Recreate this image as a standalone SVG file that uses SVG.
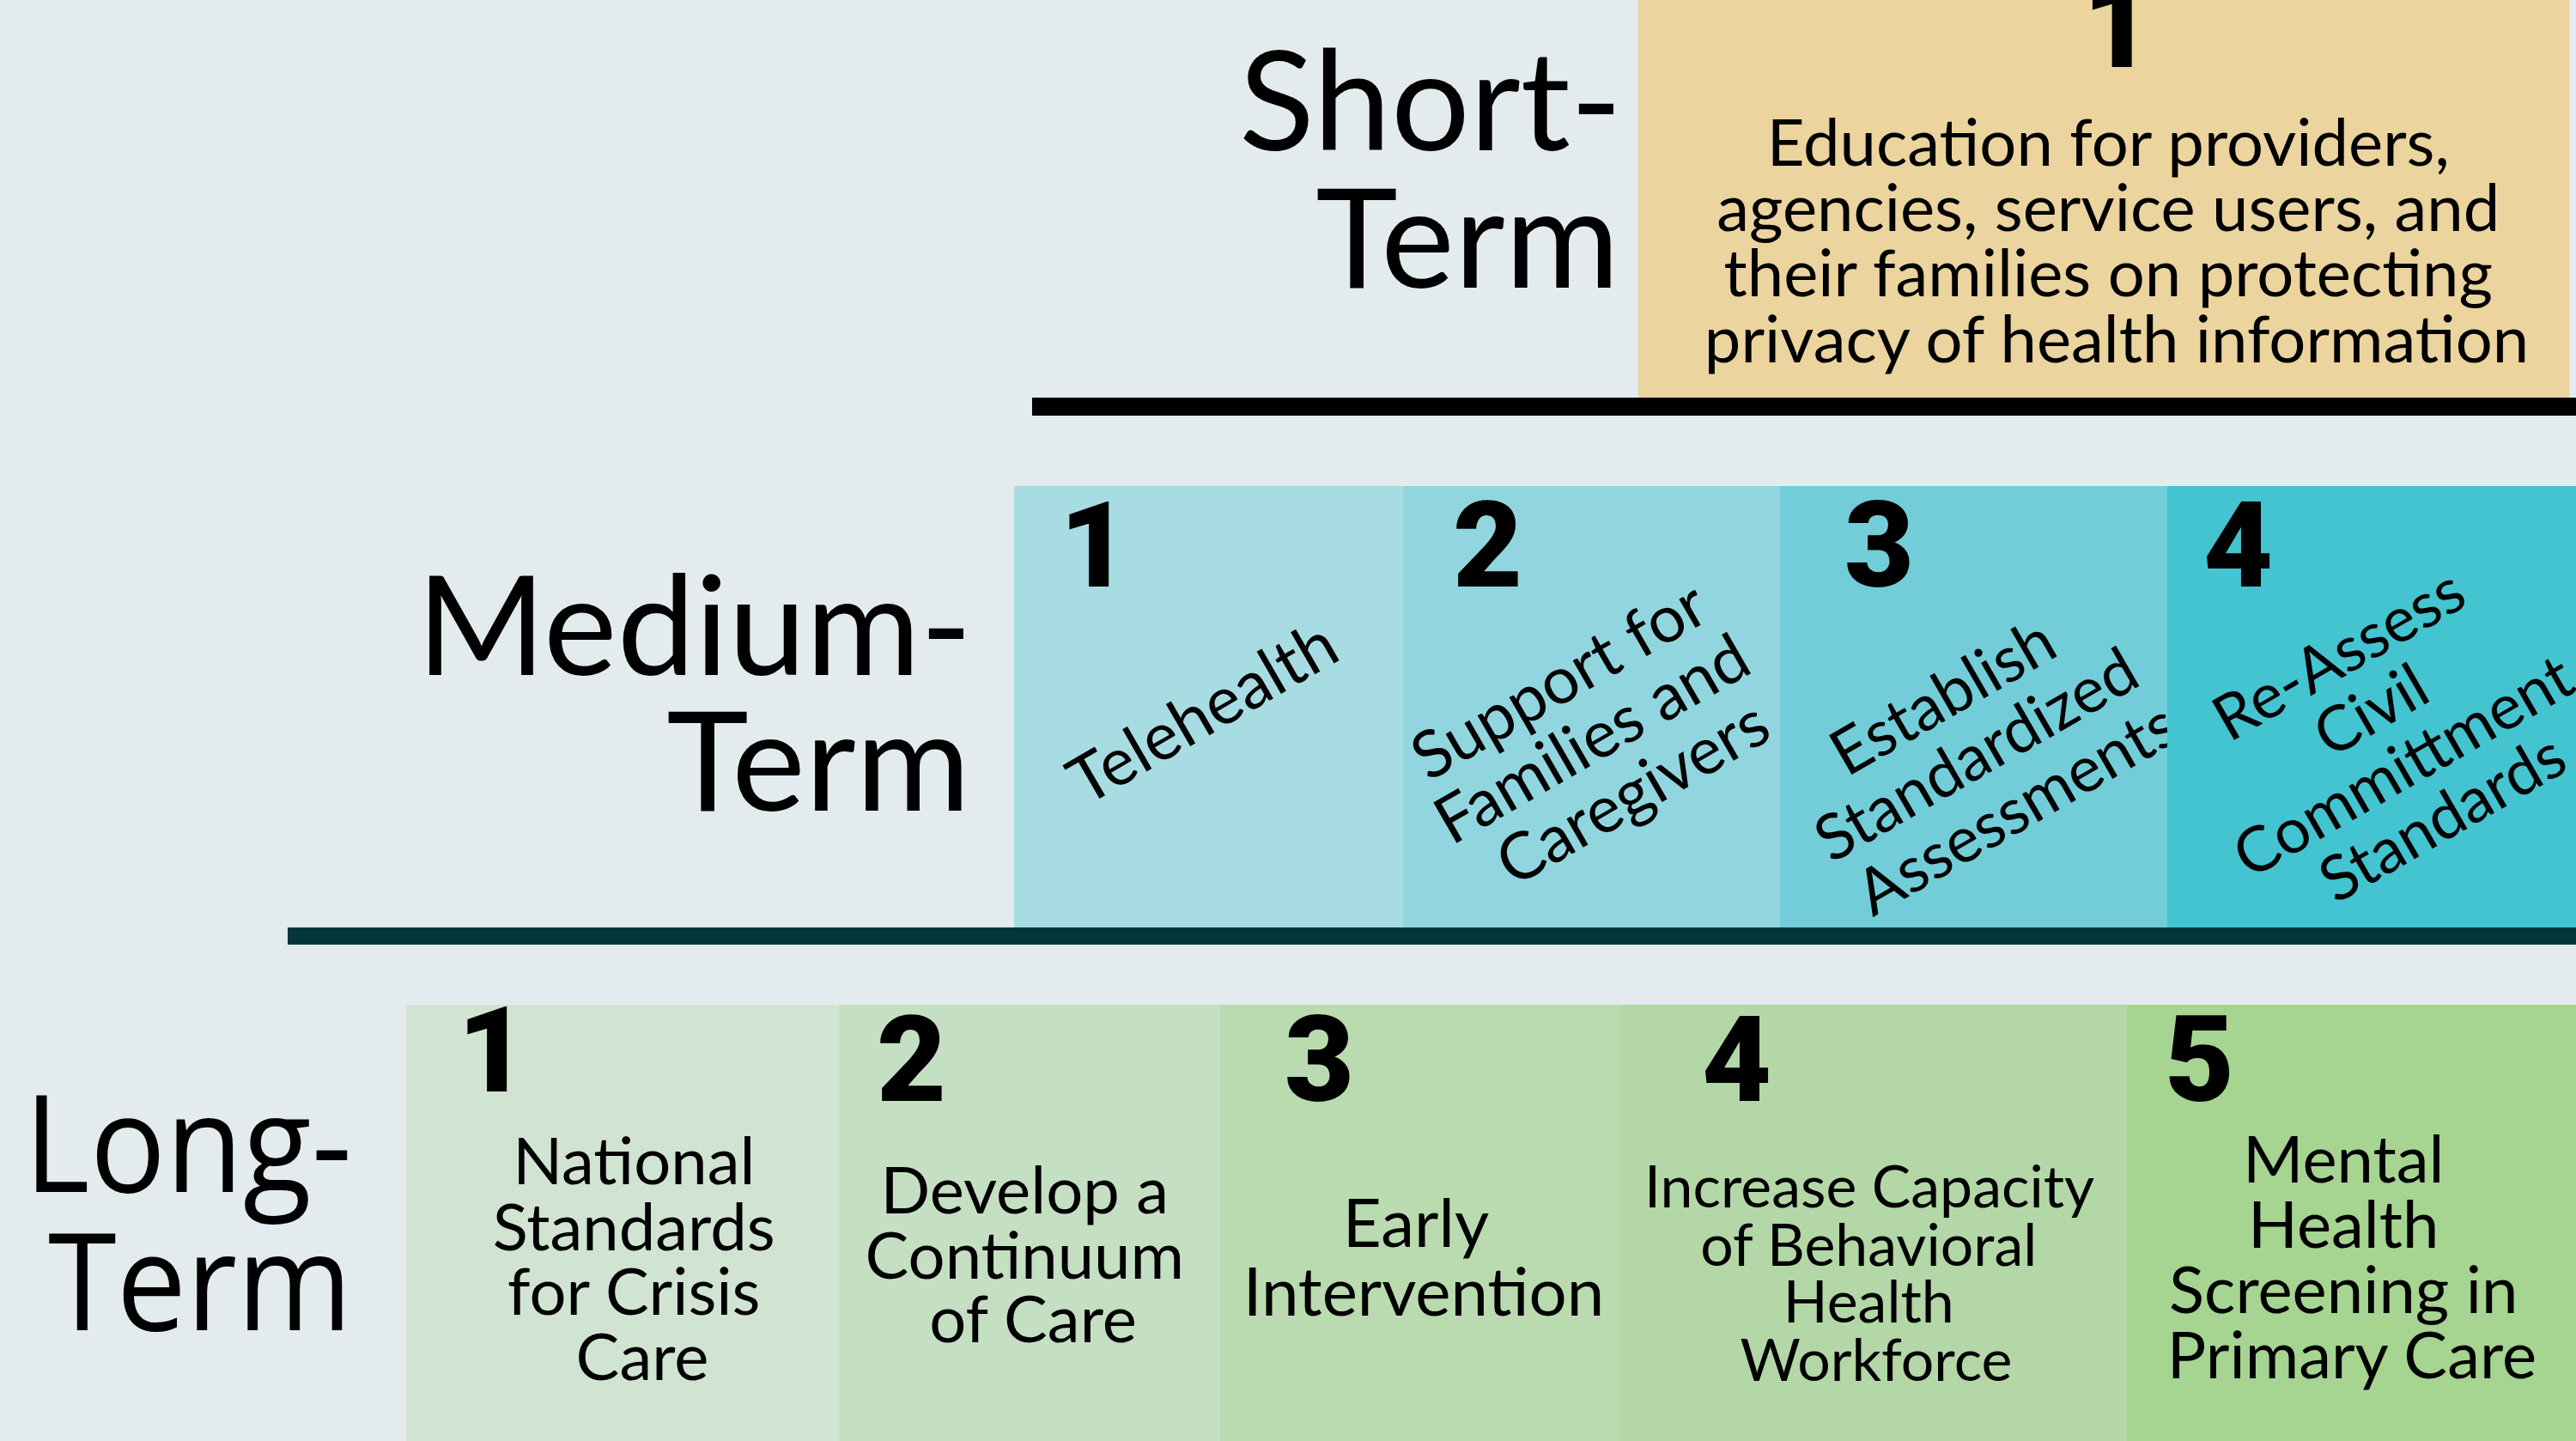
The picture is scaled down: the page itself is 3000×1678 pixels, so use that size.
<svg xmlns="http://www.w3.org/2000/svg" width="3000" height="1678" viewBox="0 0 3000 1678">
  <style>
    .label { font-family: Lato, "Open Sans", "Liberation Sans", sans-serif; font-size: 162px; text-anchor: end; fill: #000; }
    .label-long { font-family: "Open Sans", "Noto Sans", "Liberation Sans", sans-serif; font-size: 158px; text-anchor: end; fill: #000; }
    .num { font-family: Roboto, "DejaVu Sans", sans-serif; font-weight: 900; font-size: 140px; fill: #000; }
    .body { font-family: Lato, "Liberation Sans", sans-serif; text-anchor: middle; fill: #000; }
  </style>

  <!-- page background -->
  <rect x="0" y="0" width="3000" height="1678" fill="#e3ebee"/>

  <!-- tier labels -->
  <g id="label-short">
    <text class="label" x="1889" y="175">Short-</text>
    <text class="label" x="1886" y="335">Term</text>
  </g>
  <g id="label-medium">
    <text class="label" x="1132" y="786" font-size="158">Medium-</text>
    <text class="label" x="1130" y="944">Term</text>
  </g>
  <g id="label-long">
    <text class="label-long" x="410" y="1388" textLength="382" lengthAdjust="spacingAndGlyphs">Long-</text>
    <text class="label-long" x="410" y="1549" textLength="354" lengthAdjust="spacingAndGlyphs">Term</text>
  </g>

  <!-- short-term item -->
  <g id="short-1">
    <rect x="1908" y="0" width="1084" height="463" fill="#ebd49e"/>
    <text class="num" x="2466" y="78" text-anchor="middle">1</text>
    <text class="body" font-size="76">
      <tspan x="2465" y="193">Education for providers,</tspan>
      <tspan x="2465" y="269">agencies, service users, and</tspan>
      <tspan x="2465" y="345">their families on protecting</tspan>
      <tspan x="2465" y="422">privacy of health information</tspan>
    </text>
  </g>

  <!-- medium-term items -->
  <g id="medium-1">
    <rect x="1181" y="566" width="453" height="514" fill="#a7dce2"/>
    <text class="num" x="1234" y="683">1</text>
    <g transform="translate(1414,853) rotate(-30)">
      <text class="body" font-size="77" x="0" y="0">Telehealth</text>
    </g>
  </g>
  <g id="medium-2">
    <rect x="1634" y="566" width="439" height="514" fill="#91d6df"/>
    <text class="num" x="1692" y="683">2</text>
    <g transform="translate(1866,862) rotate(-30)">
      <text class="body" font-size="76">
        <tspan x="0" y="-59">Support for</tspan>
        <tspan x="0" y="19">Families and</tspan>
        <tspan x="0" y="97">Caregivers</tspan>
      </text>
    </g>
  </g>
  <g id="medium-3">
    <rect x="2073" y="566" width="451" height="514" fill="#72cdd8"/>
    <text class="num" x="2148" y="683">3</text>
    <g transform="translate(2313,880) rotate(-30)">
      <text class="body" font-size="74">
        <tspan x="0" y="-59">Establish</tspan>
        <tspan x="0" y="19">Standardized</tspan>
        <tspan x="0" y="97">Assessments</tspan>
      </text>
    </g>
  </g>
  <g id="medium-4">
    <rect x="2524" y="566" width="476" height="514" fill="#44c3d0"/>
    <text class="num" x="2566" y="683">4</text>
    <g transform="translate(2791,860) rotate(-30)">
      <text class="body" font-size="73">
        <tspan x="0" y="-93">Re-Assess</tspan>
        <tspan x="0" y="-18">Civil</tspan>
        <tspan x="0" y="57">Committment</tspan>
        <tspan x="0" y="132">Standards</tspan>
      </text>
    </g>
  </g>

  <!-- long-term items -->
  <g id="long-1">
    <rect x="473" y="1170" width="504" height="508" fill="#d1e4d2"/>
    <text class="num" x="533" y="1271">1</text>
    <text class="body" font-size="76">
      <tspan x="748" y="1379">National</tspan>
      <tspan x="748" y="1456">Standards</tspan>
      <tspan x="748" y="1531">for Crisis</tspan>
      <tspan x="748" y="1607">Care</tspan>
    </text>
  </g>
  <g id="long-2">
    <rect x="977" y="1170" width="444" height="508" fill="#c5dfc3"/>
    <text class="num" x="1021" y="1282">2</text>
    <text class="body" font-size="76">
      <tspan x="1203" y="1413">Develop a</tspan>
      <tspan x="1203" y="1489">Continuum</tspan>
      <tspan x="1203" y="1563">of Care</tspan>
    </text>
  </g>
  <g id="long-3">
    <rect x="1421" y="1170" width="467" height="508" fill="#badbb0"/>
    <text class="num" x="1496" y="1282">3</text>
    <text class="body" font-size="78">
      <tspan x="1658" y="1452">Early</tspan>
      <tspan x="1658" y="1532">Intervention</tspan>
    </text>
  </g>
  <g id="long-4">
    <rect x="1888" y="1170" width="589" height="508" fill="#b3d7a7"/>
    <text class="num" x="1982" y="1282">4</text>
    <text class="body" font-size="68">
      <tspan x="2185" y="1406">Increase Capacity</tspan>
      <tspan x="2185" y="1474">of Behavioral</tspan>
      <tspan x="2185" y="1540">Health</tspan>
      <tspan x="2185" y="1608">Workforce</tspan>
    </text>
  </g>
  <g id="long-5">
    <rect x="2477" y="1170" width="523" height="508" fill="#a6d491"/>
    <text class="num" x="2521" y="1282">5</text>
    <text class="body" font-size="76">
      <tspan x="2739" y="1377">Mental</tspan>
      <tspan x="2739" y="1453">Health</tspan>
      <tspan x="2739" y="1529">Screening in</tspan>
      <tspan x="2739" y="1605">Primary Care</tspan>
    </text>
  </g>

  <!-- tier dividers -->
  <g id="dividers">
    <rect x="1202" y="463" width="1798" height="21" fill="#000"/>
    <rect x="335" y="1080" width="2665" height="20" fill="#03363b"/>
  </g>
</svg>
